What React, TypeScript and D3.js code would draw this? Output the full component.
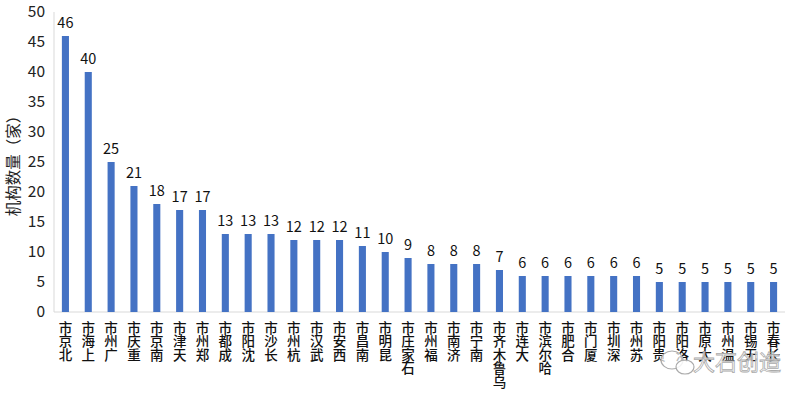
import React from "react";
import * as d3 from "d3";

const categories = ["北京市","上海市","广州市","重庆市","南京市","天津市","郑州市","成都市","沈阳市","长沙市","杭州市","武汉市","西安市","南昌市","昆明市","石家庄市","福州市","济南市","南宁市","乌鲁木齐市","大连市","哈尔滨市","合肥市","厦门市","深圳市","苏州市","贵阳市","洛阳市","太原市","温州市","无锡市","长春市"];
const values = [46,40,25,21,18,17,17,13,13,13,12,12,12,11,10,9,8,8,8,7,6,6,6,6,6,6,5,5,5,5,5,5];
const yTicks = [0,5,10,15,20,25,30,35,40,45,50];
const yTitle = "机构数量（家）";
const watermark = "大石创造";

const W = 800, H = 395;
const left = 54, right = 785, top = 12, bottom = 312;
const font = "'Noto Sans CJK SC', 'Noto Sans', sans-serif";

export default function App() {
  const x = d3.scaleBand<string>().domain(categories).range([left, right]).paddingInner(0.69).paddingOuter(0.345);
  const y = d3.scaleLinear().domain([0, 50]).range([bottom, top]);
  return (
    <svg width={W} height={H} style={{ position: "absolute", left: 0, top: 0, background: "#fff" }} fontFamily={font}>
      <line x1={left} x2={left} y1={top} y2={bottom} stroke="#d9d9d9" />
      <line x1={left} x2={right} y1={bottom} y2={bottom} stroke="#d9d9d9" />
      {yTicks.map(t => (
        <text key={t} x={45} y={y(t)} dy="0.35em" textAnchor="end" fontSize={15.5} fill="#222">{t}</text>
      ))}
      <text transform={`translate(19,${(top + bottom) / 2}) rotate(-90)`} textAnchor="middle" fontSize={15.5} fill="#222">{yTitle}</text>
      {categories.map((c, i) => {
        const cx = (x(c) as number) + x.bandwidth() / 2;
        const rev = Array.from(c).reverse().join("");
        return (
          <g key={c}>
            <rect x={x(c)} y={y(values[i])} width={x.bandwidth()} height={bottom - y(values[i])} fill="#4472C4" />
            <text x={cx} y={y(values[i]) - 8} textAnchor="middle" fontSize={14.5} fill="#111">{values[i]}</text>
            <text x={cx} y={321} style={{ writingMode: "vertical-rl" }} fontSize={13.5} fontWeight={500} fill="#111">{rev}</text>
          </g>
        );
      })}
      <g>
        <ellipse cx={672} cy={360} rx={11} ry={9} fill="rgba(255,255,255,0.7)" stroke="#aaa" strokeWidth={1.2} />
        <ellipse cx={685} cy={367} rx={9} ry={7} fill="rgba(255,255,255,0.85)" stroke="#aaa" strokeWidth={1.2} />
        <text x={693} y={370} fontSize={22} fill="rgba(255,255,255,0.7)" stroke="#aaa" strokeWidth={0.8}>{watermark}</text>
      </g>
    </svg>
  );
}
